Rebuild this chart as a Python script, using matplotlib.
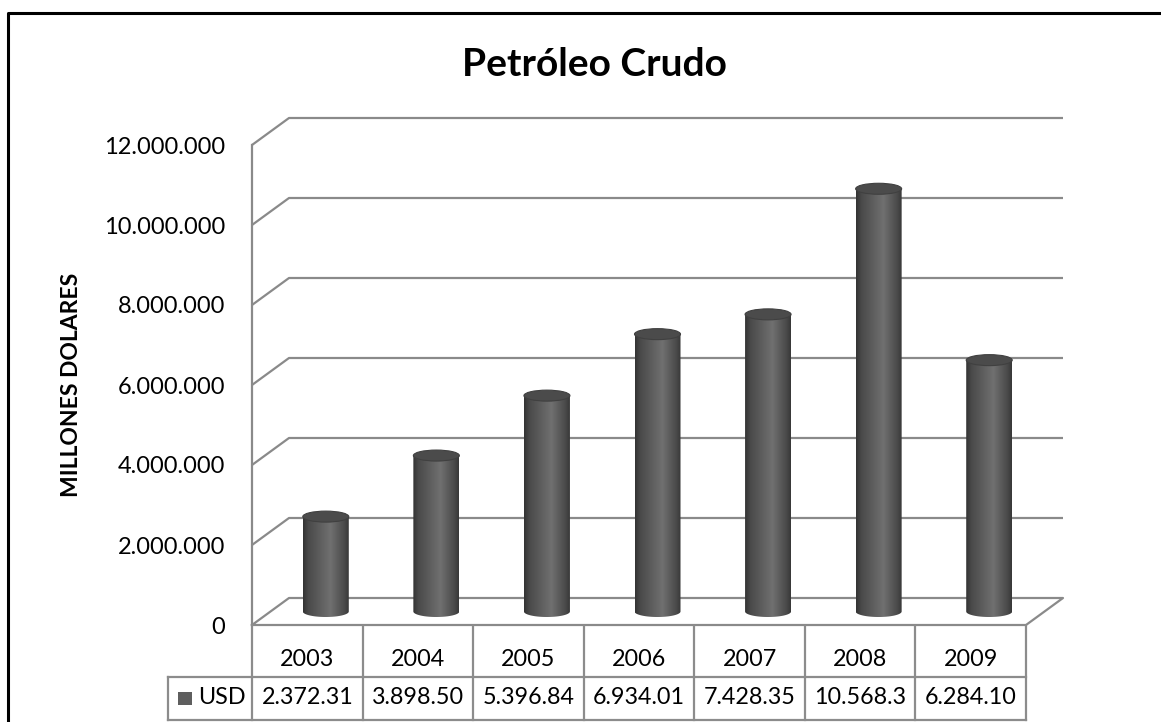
import numpy as np
import matplotlib
matplotlib.use('Agg')
import matplotlib.pyplot as plt
from matplotlib.patches import Ellipse, Polygon, Rectangle
from matplotlib.lines import Line2D
from matplotlib.colors import LinearSegmentedColormap
from matplotlib.ticker import FuncFormatter

YEARS = ['2003', '2004', '2005', '2006', '2007', '2008', '2009']
USD = [2372310, 3898500, 5396840, 6934010, 7428350, 10568300, 6284100]
USD_LABELS = ['2.372.31', '3.898.50', '5.396.84', '6.934.01',
              '7.428.35', '10.568.3', '6.284.10']
Y_TICKS = [0, 2000000, 4000000, 6000000, 8000000, 10000000, 12000000]
SERIES = 'USD'
TITLE = 'Petróleo Crudo'
YLABEL = 'MILLONES DOLARES'

plt.rcParams['font.family'] = ['Lato', 'DejaVu Sans']

W, H = 1161, 722
fig = plt.figure(figsize=(W / 100, H / 100), dpi=100)

# front plane of the plot area, in pixels
PX_L, PX_R, PX_T, PX_B = 252, 1026, 145, 625
ax = fig.add_axes([PX_L / W, 1 - PX_B / H, (PX_R - PX_L) / W, (PX_B - PX_T) / H])
ax.patch.set_visible(False)

n = len(YEARS)
ymax = Y_TICKS[-1]
xu = n / (PX_R - PX_L)          # category units per pixel
yu = ymax / (PX_B - PX_T)       # value units per pixel
DX, DY = 37 * xu, 27 * yu       # depth offset

GRID = '#8a8a8a'
lw = 1.6

# walls / gridlines
for v in Y_TICKS[1:]:
    ax.plot([-0.5, -0.5 + DX, n - 0.5 + DX], [v, v + DY, v + DY],
            color=GRID, lw=lw, zorder=1, solid_capstyle='butt', clip_on=False)
ax.plot([-0.5, -0.5 + DX, n - 0.5 + DX, n - 0.5, -0.5], [0, DY, DY, 0, 0],
        color=GRID, lw=lw, zorder=1, clip_on=False)
ax.plot([-0.5, -0.5], [0, ymax], color=GRID, lw=lw, zorder=1, clip_on=False)

# cylinders
cmap = LinearSegmentedColormap.from_list(
    'cyl', [(0, '#333333'), (0.12, '#4a4a4a'), (0.6, '#707070'), (0.9, '#4a4a4a'), (1, '#383838')])
grad = np.linspace(0, 1, 256).reshape(1, -1)
cw = 46 * xu
eh = 11 * yu
base = DY / 2
t = np.linspace(np.pi, 2 * np.pi, 60)
for i, v in enumerate(USD):
    cx = i + DX / 2
    top = base + v
    xs = np.concatenate([[cx - cw / 2], cx + cw / 2 * np.cos(t), [cx + cw / 2, cx - cw / 2]])
    ys = np.concatenate([[top], base + eh / 2 * np.sin(t), [top, top]])
    body = Polygon(np.column_stack([xs, ys]), closed=True, fc='none', ec='none')
    ax.add_patch(body)
    im = ax.imshow(grad, extent=[cx - cw / 2, cx + cw / 2, base - eh / 2, top],
                   aspect='auto', cmap=cmap, zorder=3, interpolation='bilinear')
    im.set_clip_path(body)
    ax.add_patch(Ellipse((cx, top), cw, eh, fc='#4b4b4b', ec='#404040',
                         lw=0.8, zorder=4))

ax.set_xlim(-0.5, n - 0.5)
ax.set_ylim(0, ymax)

# axis ticks
ax.set_xticks([])
ax.set_yticks(Y_TICKS)
ax.yaxis.set_major_formatter(FuncFormatter(lambda v, p: f'{v:,.0f}'.replace(',', '.')))
ax.tick_params(axis='y', length=0, pad=19.4, labelsize=17)
for s in ax.spines.values():
    s.set_visible(False)


# data table below the plot
def py(p):
    return (PX_B - p) * yu


tb_top, tb_mid, tb_bot = py(626), py(677), py(720)
leg_l = -0.5 + (168 - PX_L) * xu
TC = '#8c8c8c'
kw = dict(color=TC, lw=lw, clip_on=False, zorder=2)
ax.plot([leg_l, n - 0.5], [tb_mid, tb_mid], **kw)
ax.plot([leg_l, n - 0.5], [tb_bot, tb_bot], **kw)
ax.plot([leg_l, leg_l], [tb_mid, tb_bot], **kw)
for k in range(n + 1):
    ax.plot([k - 0.5, k - 0.5], [tb_top, tb_bot], **kw)
for i in range(n):
    ax.text(i, py(660), YEARS[i], ha='center', va='center', fontsize=16.8, clip_on=False)
    ax.text(i, py(698), USD_LABELS[i], ha='center', va='center', fontsize=16.8, clip_on=False)
ax.add_patch(Rectangle((-0.5 + (178 - PX_L) * xu, py(705)), 14 * xu, 13 * yu,
                       fc='#5e5e5e', ec='none', clip_on=False))
ax.text(-0.5 + (198 - PX_L) * xu, py(698), SERIES, ha='left', va='center',
        fontsize=16.8, clip_on=False)

# titles
fig.text(594 / W, 1 - 76 / H, TITLE, ha='center', va='baseline',
         fontsize=28, fontweight='bold')
fig.text(72 / W, 1 - 385 / H, YLABEL, rotation=90, ha='center', va='center',
         fontsize=16.5, fontweight='bold')

# chart border (top and left visible)
fig.add_artist(Line2D([8 / W, 8 / W, 1], [0, 1 - 13 / H, 1 - 13 / H],
                      transform=fig.transFigure, color='black', lw=2.2))

fig.savefig('out.png', dpi=100)
